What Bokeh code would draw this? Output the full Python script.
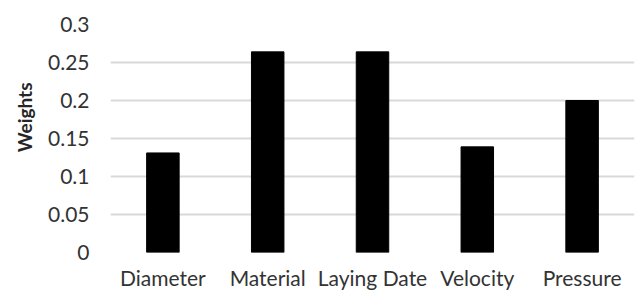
from bokeh.plotting import figure
from bokeh.models import ColumnDataSource, FactorRange, Title
from bokeh.embed import file_html
from bokeh.resources import INLINE

categories = ["Diameter", "Material", "Laying Date", "Velocity", "Pressure"]
weights = [0.131, 0.264, 0.264, 0.139, 0.200]
y_ticks = [0, 0.05, 0.1, 0.15, 0.2, 0.25, 0.3]
y_tick_labels = {0: "0", 0.05: "0.05", 0.1: "0.1", 0.15: "0.15", 0.2: "0.2", 0.25: "0.25", 0.3: "0.3"}
y_title = "Weights"

src = ColumnDataSource(dict(cat=categories, w=weights))

FONT = "Lato"

p = figure(x_range=FactorRange(*categories, range_padding=0), y_range=(0, 0.3),
           width=635, height=292, output_backend="svg", toolbar_location=None,
           min_border_left=109, min_border_right=1, min_border_top=24, min_border_bottom=40)

p.vbar(x="cat", top="w", width=0.31, source=src, fill_color="black", line_color="black")

p.outline_line_color = None
p.xgrid.grid_line_color = None
p.ygrid.grid_line_color = "#d9d9d9"
p.ygrid.grid_line_width = 2
p.ygrid.ticker = y_ticks
p.yaxis.ticker = y_ticks
p.yaxis.major_label_overrides = y_tick_labels

for ax in (p.xaxis, p.yaxis):
    ax.axis_line_color = None
    ax.major_tick_line_color = None
    ax.minor_tick_line_color = None
    ax.major_tick_out = 0
    ax.major_tick_in = 0
    ax.major_label_text_font = FONT
    ax.major_label_text_font_size = "21px"
    ax.major_label_text_color = "#333333"

p.xaxis.major_label_standoff = 12
p.yaxis.major_label_standoff = 21

t = Title(text=y_title, align="right", offset=58, text_font=FONT, text_font_size="19px",
          text_font_style="bold", text_color="#262626", standoff=20)
p.add_layout(t, "left")

open("out.html", "w").write(file_html(p, INLINE))
